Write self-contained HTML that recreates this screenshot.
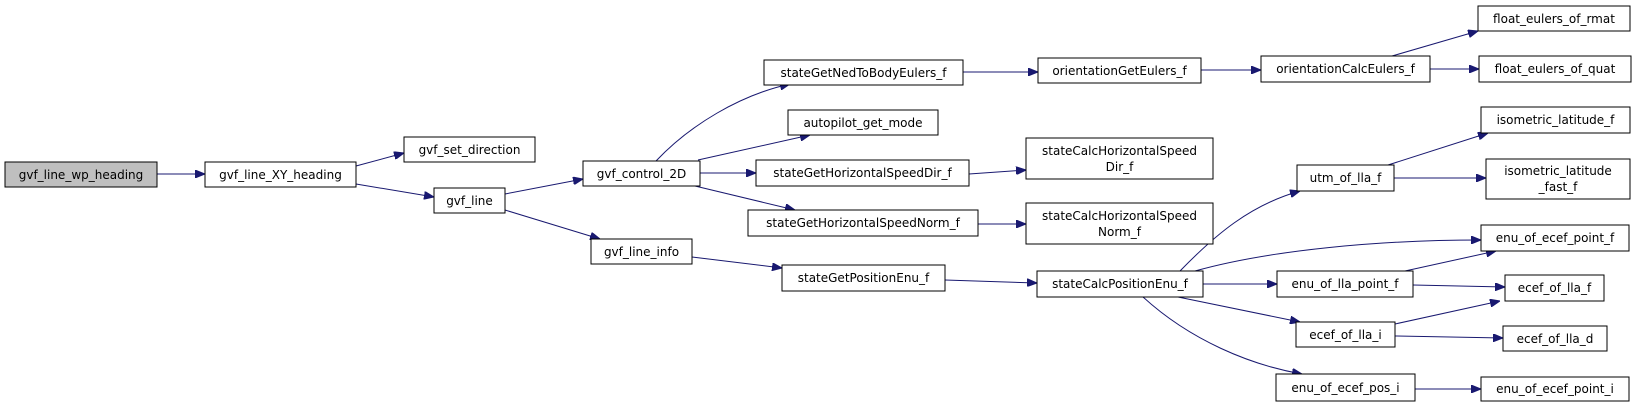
<!DOCTYPE html>
<html><head><meta charset="utf-8"><style>
html,body{margin:0;padding:0;background:#fff;}
svg{display:block;}
text{font-family:"DejaVu Sans","Liberation Sans",sans-serif;font-size:12px;fill:#000;}
rect{fill:#fff;stroke:#000;stroke-width:1;}
path.e{fill:none;stroke:#191970;stroke-width:1;}
</style></head><body>
<svg width="1637" height="408" viewBox="0 0 1637 408" xmlns="http://www.w3.org/2000/svg">
<defs>
<marker id="a" viewBox="0 0 10 8" refX="10" refY="4" markerWidth="10" markerHeight="8" markerUnits="userSpaceOnUse" orient="auto">
<path d="M0,0 L10,4 L0,8 z" fill="#191970" stroke="#191970"/>
</marker>
</defs>
<g marker-end="url(#a)">
<path class="e" d="M157,174 L205,174"/>
<path class="e" d="M356,166 L404,153"/>
<path class="e" d="M356,184 L434,197"/>
<path class="e" d="M505,194 L583,179"/>
<path class="e" d="M505,210 L600,239"/>
<path class="e" d="M656,161 C690,125 740,95 790,84"/>
<path class="e" d="M698,160 L810,135"/>
<path class="e" d="M700,173 L756,173"/>
<path class="e" d="M695,186 L795,210"/>
<path class="e" d="M692,257 L782,268"/>
<path class="e" d="M963,72 L1038,72"/>
<path class="e" d="M1201,70 L1261,70"/>
<path class="e" d="M1392,56 L1478,31"/>
<path class="e" d="M1430,69 L1479,69"/>
<path class="e" d="M969,174 L1026,170"/>
<path class="e" d="M978,224 L1026,224"/>
<path class="e" d="M945,280 L1037,283"/>
<path class="e" d="M1180,271 C1215,235 1250,205 1300,191"/>
<path class="e" d="M1195,271 C1270,250 1380,240 1481,240"/>
<path class="e" d="M1203,284 L1277,284"/>
<path class="e" d="M1178,297 L1300,322"/>
<path class="e" d="M1143,297 C1190,340 1250,365 1302,374"/>
<path class="e" d="M1388,165 L1488,133"/>
<path class="e" d="M1394,178 L1486,178"/>
<path class="e" d="M1405,271 L1496,251"/>
<path class="e" d="M1413,285 L1505,287"/>
<path class="e" d="M1395,324 L1500,301"/>
<path class="e" d="M1395,336 L1503,338"/>
<path class="e" d="M1415,389 L1481,389"/>
</g>
<g text-anchor="middle">
<rect x="5" y="162" width="152" height="25" style="fill:#bfbfbf"/><text x="81" y="179">gvf_line_wp_heading</text>
<rect x="205" y="162" width="151" height="25"/><text x="280.5" y="179">gvf_line_XY_heading</text>
<rect x="404" y="137" width="131" height="25"/><text x="469.5" y="154">gvf_set_direction</text>
<rect x="434" y="188" width="71" height="25"/><text x="469.5" y="205">gvf_line</text>
<rect x="583" y="161" width="117" height="25"/><text x="641.5" y="178">gvf_control_2D</text>
<rect x="591" y="239" width="101" height="25"/><text x="641.5" y="256">gvf_line_info</text>
<rect x="764" y="60" width="199" height="25"/><text x="863.5" y="77">stateGetNedToBodyEulers_f</text>
<rect x="788" y="110" width="150" height="25"/><text x="863" y="127">autopilot_get_mode</text>
<rect x="756" y="160" width="213" height="26"/><text x="862.5" y="177">stateGetHorizontalSpeedDir_f</text>
<rect x="748" y="210" width="230" height="26"/><text x="863" y="227">stateGetHorizontalSpeedNorm_f</text>
<rect x="1026" y="138" width="187" height="41"/><text x="1119.5" y="155">stateCalcHorizontalSpeed</text><text x="1119.5" y="171">Dir_f</text>
<rect x="1026" y="203" width="187" height="41"/><text x="1119.5" y="220">stateCalcHorizontalSpeed</text><text x="1119.5" y="236">Norm_f</text>
<rect x="782" y="265" width="163" height="26"/><text x="863.5" y="282">stateGetPositionEnu_f</text>
<rect x="1037" y="271" width="166" height="26"/><text x="1120" y="288">stateCalcPositionEnu_f</text>
<rect x="1038" y="58" width="163" height="25"/><text x="1119.5" y="75">orientationGetEulers_f</text>
<rect x="1261" y="56" width="169" height="26"/><text x="1345.5" y="73">orientationCalcEulers_f</text>
<rect x="1478" y="6" width="152" height="25"/><text x="1554" y="23">float_eulers_of_rmat</text>
<rect x="1479" y="56" width="152" height="26"/><text x="1555" y="73">float_eulers_of_quat</text>
<rect x="1297" y="165" width="97" height="26"/><text x="1345.5" y="182">utm_of_lla_f</text>
<rect x="1481" y="107" width="149" height="26"/><text x="1555.5" y="124">isometric_latitude_f</text>
<rect x="1486" y="159" width="144" height="40"/><text x="1558" y="175">isometric_latitude</text><text x="1558" y="191">_fast_f</text>
<rect x="1481" y="225" width="148" height="26"/><text x="1555" y="242">enu_of_ecef_point_f</text>
<rect x="1277" y="271" width="136" height="26"/><text x="1345" y="288">enu_of_lla_point_f</text>
<rect x="1505" y="275" width="99" height="26"/><text x="1554.5" y="292">ecef_of_lla_f</text>
<rect x="1296" y="322" width="99" height="25"/><text x="1345.5" y="339">ecef_of_lla_i</text>
<rect x="1503" y="326" width="104" height="25"/><text x="1555" y="343">ecef_of_lla_d</text>
<rect x="1276" y="374" width="139" height="27"/><text x="1345.5" y="392">enu_of_ecef_pos_i</text>
<rect x="1481" y="377" width="148" height="24"/><text x="1555" y="393">enu_of_ecef_point_i</text>
</g>
</svg>
</body></html>
